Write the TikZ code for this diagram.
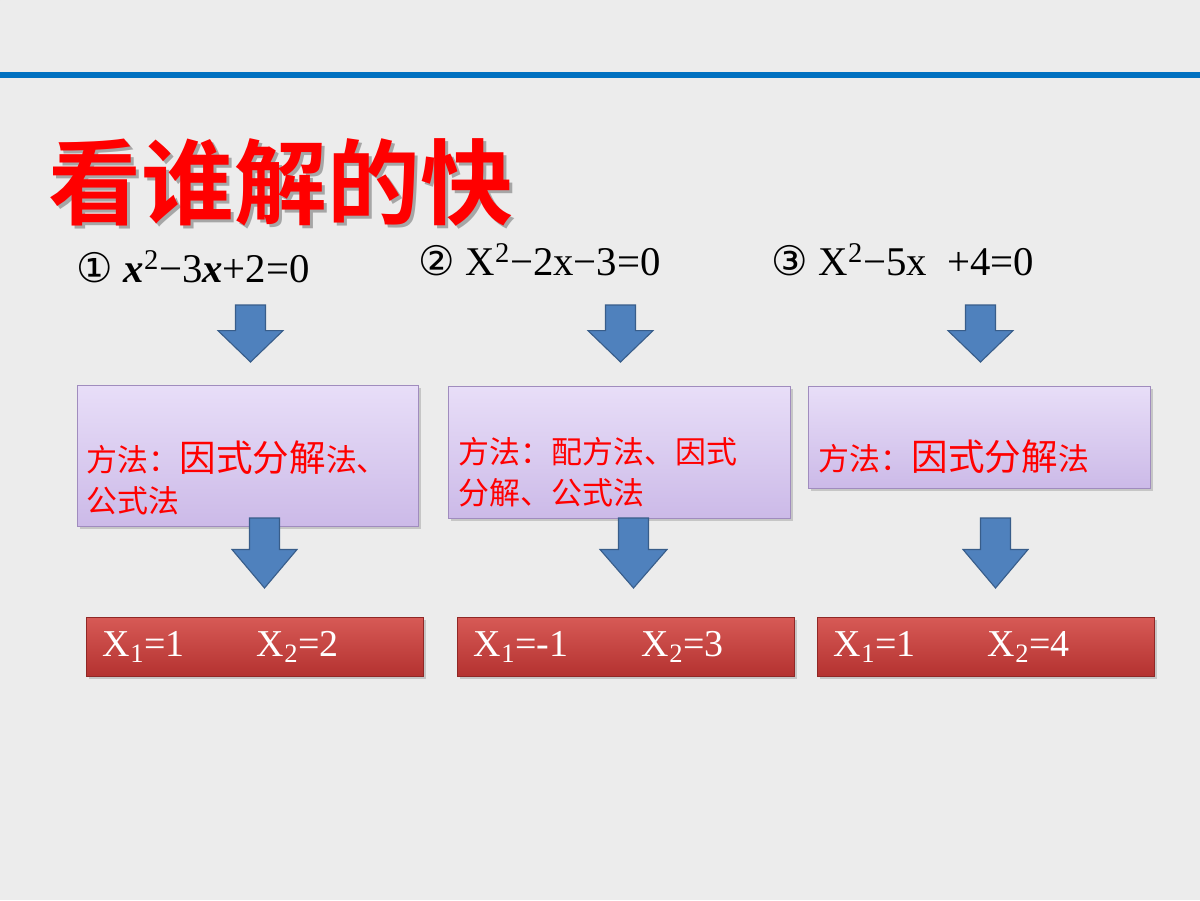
\documentclass[tikz,border=0pt]{standalone}
\usepackage{fontspec}
\setmainfont{Liberation Serif}
\newfontfamily\cjk{Noto Sans CJK SC}
\newfontfamily\cjkb{Noto Sans CJK SC Bold}
\newfontfamily\dv{DejaVu Sans}
\usetikzlibrary{shadows}
\definecolor{bg}{RGB}{236,236,236}
\definecolor{lineblue}{RGB}{0,112,192}
\definecolor{arrblue}{RGB}{79,129,189}
\definecolor{arrdark}{RGB}{56,93,138}
\definecolor{lav1}{RGB}{232,222,248}
\definecolor{lav2}{RGB}{204,186,232}
\definecolor{lavb}{RGB}{160,140,190}
\definecolor{red1}{RGB}{215,90,86}
\definecolor{red2}{RGB}{180,50,48}
\tikzset{
 method/.style={draw=lavb,top color=lav1,bottom color=lav2,drop shadow={opacity=0.35}},
 result/.style={draw=red2!80!black,top color=red1,bottom color=red2,drop shadow={opacity=0.35}},
 barrow/.style={fill=arrblue,draw=arrdark,line width=0.8pt},
 mtext/.style={anchor=west,text=red,align=left,font=\cjk\fontsize{22}{29}\selectfont},
 rtext/.style={anchor=west,text=white,font=\fontsize{27}{29}\selectfont},
 eq/.style={anchor=west,font=\fontsize{29}{32}\selectfont}
}
\newcommand{\darr}[4]{% left, right, top, bottom
 \path[barrow] ({(#1+#2)/2-15},#3) -- ({(#1+#2)/2+15},#3) -- ({(#1+#2)/2+15},{#3+(#4-#3)*0.45}) -- (#2,{#3+(#4-#3)*0.45}) -- ({(#1+#2)/2},#4) -- (#1,{#3+(#4-#3)*0.45}) -- ({(#1+#2)/2-15},{#3+(#4-#3)*0.45}) -- cycle;}
\begin{document}
\begin{tikzpicture}[x=0.025cm,y=-0.025cm]
\fill[bg] (0,0) rectangle (1200,900);
\useasboundingbox (0,0) rectangle (1200,900);
\fill[lineblue] (0,72) rectangle (1200,78);
\fill[black!35,opacity=0.5] (0,0) circle (0.01); % no-op anchor
\node (shadow)[anchor=west,text=black!35] at (47,185) {\cjkb\fontsize{66}{70}\selectfont 看谁解的快};
\node (title)[anchor=west,text=red] at (44,182) {\cjkb\fontsize{66}{70}\selectfont 看谁解的快};
\node (e1)[eq] at (72,267) {{\dv\itshape ①}\ \textbf{\textit{x}}\textsuperscript{2}−3\textbf{\textit{x}}+2=0};
\node (e2)[eq] at (414,260) {{\dv ②}\ X\textsuperscript{2}−2x−3=0};
\node (e3)[eq] at (767,260) {{\dv ③}\ X\textsuperscript{2}−5x\ \ +4=0};
\darr{218}{283}{305}{362}
\darr{588}{653}{305}{362}
\darr{948}{1013}{305}{362}
\path[method] (77,385) rectangle (418,526);
\path[method] (448,386) rectangle (790,518);
\path[method] (808,386) rectangle (1150,488);
\node (m1)[mtext] at (82,478) {方法：{\fontsize{26}{29}\selectfont 因式分解}法、\\公式法};
\node (m2)[mtext] at (454,472) {方法：配方法、因式\\分解、公式法};
\node (m3)[mtext] at (814,457) {方法：{\fontsize{26}{29}\selectfont 因式分解}法};
\darr{232}{297}{518}{588}
\darr{600}{667}{518}{588}
\darr{963}{1028}{518}{588}
\path[result] (86,617) rectangle (423,676);
\path[result] (457,617) rectangle (794,676);
\path[result] (817,617) rectangle (1154,676);
\node (r1a)[rtext] at (98,647) {X\textsubscript{1}=1};
\node (r1b)[rtext] at (252,647) {X\textsubscript{2}=2};
\node (r2a)[rtext] at (469,647) {X\textsubscript{1}=-1};
\node (r2b)[rtext] at (637,647) {X\textsubscript{2}=3};
\node (r3a)[rtext] at (829,647) {X\textsubscript{1}=1};
\node (r3b)[rtext] at (983,647) {X\textsubscript{2}=4};
\end{tikzpicture}
\end{document}
